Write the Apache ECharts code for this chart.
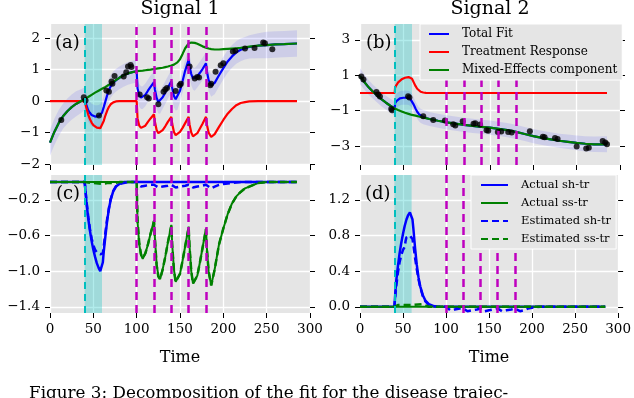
<!DOCTYPE html>
<html>
<head>
<meta charset="utf-8">
<script src="https://cdn.jsdelivr.net/npm/echarts@6.0.0/dist/echarts.min.js"></script>
<style>
html, body { margin: 0; padding: 0; background: #fff; }
#main { width: 634px; height: 398px; }
</style>
</head>
<body>
<div id="main"></div>
<script>
// treatment markers
var treatTimes = [100, 120, 140, 160, 180]
    , shockStart = 40
    , shockEnd = 60;

// panel (a): signal 1 fit
var tA = [0,5,10,15,20,25,30,35,40,42,44,46,48,50,52,54,56,58,60,62,64,66,68,70,73,76,80,85,90,95,100,101,103,105,107,110,113,116,120,121,123,125,127,130,133,136,140,141,143,145,147,150,153,156,160,161,163,165,167,170,173,176,180,181,183,186,190,195,200,205,210,215,220,225,230,240,250,260,270,285];
var redA = [0,0,0,0,0, 0,0,0,0,-0.22, -0.42,-0.57,-0.68,-0.76,-0.81, -0.84,-0.86,-0.86,-0.8,-0.63, -0.45,-0.3,-0.18,-0.1,-0.04, -0.01,0,0,0,0, 0,-0.55,-0.78,-0.85,-0.86, -0.78,-0.66,-0.55,-0.42,-0.65, -0.92,-1.02,-1.04,-0.92,-0.8, -0.66,-0.5,-0.72,-0.98,-1.08, -1.1,-0.98,-0.85,-0.7,-0.5, -0.74,-1.0,-1.12,-1.14,-1.02, -0.87,-0.72,-0.5,-0.74,-1.0, -1.14,-1.05,-0.82,-0.6,-0.4, -0.25,-0.13,-0.06,-0.03,-0.01, 0,0,0,0,0];
var greenA = [-1.32,-0.98,-0.7,-0.48,-0.32, -0.19,-0.09,-0.01,0.07,0.1, 0.13,0.17,0.2,0.24,0.27, 0.3,0.33,0.36,0.39,0.42, 0.45,0.49,0.52,0.56,0.61, 0.67,0.74,0.82,0.88,0.92, 0.95,0.95,0.96,0.96,0.97, 0.98,0.99,1.0,1.02,1.02, 1.03,1.04,1.05,1.06,1.08, 1.1,1.13,1.14,1.16,1.19, 1.23,1.33,1.5,1.68,1.83, 1.85,1.86,1.86,1.85,1.82, 1.78,1.74,1.7,1.69,1.67, 1.65,1.64,1.64,1.65,1.66, 1.67,1.68,1.69,1.71,1.73, 1.76,1.78,1.8,1.81,1.83];
var blueA = [-1.32,-0.98,-0.7,-0.48,-0.32, -0.19,-0.09,-0.01,0.07,-0.12, -0.29,-0.37,-0.44,-0.47,-0.49, -0.49,-0.48,-0.45,-0.37,-0.19, 0.0,0.19,0.35,0.47,0.58, 0.66,0.74,0.82,0.88,0.92, 0.95,0.4,0.18,0.11,0.11, 0.2,0.33,0.45,0.6,0.37, 0.11,-0.03,-0.04,0.12,0.27, 0.43,0.63,0.42,0.16,0.06, 0.08,0.33,0.64,0.97,1.32, 1.11,0.86,0.72,0.69,0.79, 0.9,1.02,1.2,0.95,0.67, 0.5,0.58,0.82,1.05,1.26, 1.42,1.55,1.63,1.68,1.72, 1.76,1.78,1.8,1.81,1.83];
var bandLoA = [-1.74,-1.40,-1.12,-0.88,-0.72, -0.59,-0.49,-0.39,-0.29,-0.48, -0.65,-0.73,-0.80,-0.83,-0.85, -0.85,-0.84,-0.81,-0.73,-0.55, -0.36,-0.17,-0.01,0.11,0.22, 0.30,0.38,0.46,0.52,0.56, 0.59,0.04,-0.18,-0.25,-0.25, -0.16,-0.03,0.09,0.24,0.01, -0.25,-0.39,-0.40,-0.24,-0.09, 0.07,0.27,0.06,-0.20,-0.30, -0.28,-0.03,0.28,0.61,0.96, 0.75,0.50,0.36,0.33,0.43, 0.54,0.66,0.84,0.59,0.31, 0.14,0.22,0.46,0.69,0.90, 1.06,1.19,1.27,1.32,1.35, 1.36,1.36,1.38,1.39,1.41];
var bandHiA = [-0.90,-0.56,-0.28,-0.08,0.08, 0.21,0.31,0.37,0.43,0.24, 0.07,-0.01,-0.08,-0.11,-0.13, -0.13,-0.12,-0.09,-0.01,0.17, 0.36,0.55,0.71,0.83,0.94, 1.02,1.10,1.18,1.24,1.28, 1.31,0.76,0.54,0.47,0.47, 0.56,0.69,0.81,0.96,0.73, 0.47,0.33,0.32,0.48,0.63, 0.79,0.99,0.78,0.52,0.42, 0.44,0.69,1.00,1.33,1.68, 1.47,1.22,1.08,1.05,1.15, 1.26,1.38,1.56,1.31,1.03, 0.86,0.94,1.18,1.41,1.62, 1.78,1.91,1.99,2.04,2.09, 2.16,2.20,2.22,2.23,2.25];
var obsA = [[13,-0.6],[39,0.12],[41,0.02],[56.5,-0.46],[65,0.34],[68,0.3],[71,0.62],[72,0.55],[74.5,0.8],[85,0.78],[88,0.92],[90,1.1],[93,1.15],[94,1.08],[103.5,0.21],[112,0.12],[114,0.08],[125,-0.1],[131,0.3],[133,0.37],[135,0.42],[145,0.32],[149.5,0.5],[151,0.55],[161,1.1],[167,0.72],[170,0.77],[172,0.75],[185,0.5],[186,0.55],[191,0.93],[197,1.14],[200,1.2],[211,1.58],[214,1.6],[225,1.67],[236,1.69],[246,1.86],[248,1.84],[256.5,1.65]];

// panel (b): signal 2 fit
var tB = [0,5,10,15,20,25,30,35,40,40.5,42,44,46,48,50,52,54,56,58,60,62,64,66,68,70,73,76,80,90,100,110,120,130,140,150,160,170,180,190,200,210,220,230,240,250,260,270,285];
var redB = [0,0,0,0,0,0,0,0,0,0.3, 0.45,0.6,0.7,0.77,0.82, 0.86,0.88,0.9,0.88,0.8, 0.6,0.4,0.24,0.13,0.07, 0.03,0.01,0, 0,0,0,0,0,0,0,0,0,0,0,0,0,0,0,0,0,0,0,0];
var greenB = [0.95,0.62,0.32,0.07,-0.15,-0.36,-0.55,-0.72,-0.87,-0.88, -0.91,-0.96,-1.0,-1.04,-1.09, -1.12,-1.15,-1.18,-1.21,-1.24, -1.26,-1.28,-1.3,-1.33,-1.36, -1.39,-1.42,-1.47, -1.57,-1.66,-1.73,-1.8,-1.86,-1.91,-1.96,-2.03,-2.1,-2.2,-2.32,-2.44,-2.54,-2.62,-2.7,-2.76,-2.82,-2.87,-2.9,-2.9];
var blueB = [0.95,0.62,0.32,0.07,-0.15,-0.36,-0.55,-0.72,-0.87,-0.58, -0.46,-0.36,-0.3,-0.27,-0.27, -0.26,-0.27,-0.28,-0.33,-0.44, -0.66,-0.88,-1.06,-1.2,-1.29, -1.36,-1.41,-1.47, -1.57,-1.66,-1.73,-1.8,-1.86,-1.91,-1.96,-2.03,-2.1,-2.2,-2.32,-2.44,-2.54,-2.62,-2.7,-2.76,-2.82,-2.87,-2.9,-2.9];
var bandLoB = [0.50,0.18,-0.10,-0.33,-0.55,-0.76,-0.95,-1.12,-1.27,-0.98, -0.86,-0.76,-0.70,-0.67,-0.67, -0.66,-0.67,-0.68,-0.73,-0.84, -1.06,-1.28,-1.46,-1.60,-1.69, -1.76,-1.81,-1.87, -1.97,-2.06,-2.13,-2.20,-2.26,-2.31,-2.36,-2.43,-2.50,-2.60,-2.72,-2.84,-2.94,-3.02,-3.10,-3.17,-3.24,-3.30,-3.34,-3.35];
var bandHiB = [1.40,1.06,0.74,0.47,0.25,0.04,-0.15,-0.32,-0.47,-0.18, -0.06,0.04,0.10,0.13,0.13, 0.14,0.13,0.12,0.07,-0.04, -0.26,-0.48,-0.66,-0.80,-0.89, -0.96,-1.01,-1.07, -1.17,-1.26,-1.33,-1.40,-1.46,-1.51,-1.56,-1.63,-1.70,-1.80,-1.92,-2.04,-2.14,-2.22,-2.30,-2.35,-2.40,-2.44,-2.46,-2.45];
var obsB = [[1.5,0.93],[4,0.76],[19,0.05],[21,-0.08],[23,-0.2],[36,-0.9],[37,-0.97],[55.5,-0.18],[57,-0.25],[73,-1.31],[84.5,-1.52],[98,-1.56],[107.5,-1.76],[110,-1.84],[118.5,-1.6],[131,-1.74],[133,-1.71],[138.5,-1.78],[146,-2.1],[148,-2.14],[159,-2.2],[163,-2.18],[171,-2.2],[175,-2.24],[196,-2.16],[211,-2.48],[213,-2.5],[225,-2.54],[228,-2.6],[250,-3.02],[261,-3.14],[264,-3.1],[280,-2.72],[283,-2.8],[285,-2.9]];

// panel (c): signal 1 decomposition
var actShC = [[0,0],[40,0],[41,-0.1],[42,-0.22],[44,-0.4],[46,-0.54],[48,-0.66],[50,-0.76],[52,-0.84],[54,-0.91],[56,-0.96],[58,-1.0],[60,-1.02],[61,-0.9],[62,-0.78],[64,-0.6],[66,-0.43],[68,-0.3],[70,-0.2],[73,-0.1],[76,-0.05],[80,-0.02],[85,0],[285,0]];
var estShC = [[0,0],[40,0],[41,-0.1],[42,-0.2],[44,-0.38],[46,-0.52],[48,-0.63],[50,-0.71],[52,-0.76],[54,-0.79],[56,-0.8],[58,-0.81],[60,-0.83],[61,-0.8],[62,-0.72],[64,-0.56],[66,-0.41],[68,-0.29],[70,-0.19],[73,-0.1],[76,-0.05],[80,-0.02],[85,-0.01],[90,0],[100,0],[102,-0.03],[105,-0.05],[110,-0.04],[116,-0.03],[120,-0.03],[122,-0.04],[125,-0.06],[130,-0.05],[136,-0.04],[140,-0.03],[142,-0.04],[145,-0.06],[150,-0.05],[156,-0.04],[160,-0.03],[162,-0.04],[165,-0.06],[170,-0.05],[176,-0.04],[180,-0.03],[182,-0.05],[186,-0.07],[190,-0.05],[195,-0.03],[200,-0.02],[210,-0.01],[220,0],[285,0]];
var actSsC = [[0,0],[100,0],[101,-0.45],[103,-0.7],[105,-0.82],[107,-0.86],[110,-0.8],[113,-0.7],[116,-0.58],[120,-0.43],[121,-0.62],[123,-0.92],[125,-1.05],[127,-1.09],[130,-0.98],[133,-0.84],[136,-0.68],[140,-0.48],[141,-0.7],[143,-0.98],[145,-1.12],[147,-1.14],[150,-1.03],[153,-0.88],[156,-0.72],[160,-0.5],[161,-0.72],[163,-1.0],[165,-1.14],[167,-1.16],[170,-1.05],[173,-0.9],[176,-0.74],[180,-0.52],[181,-0.74],[183,-1.0],[186,-1.16],[190,-0.98],[195,-0.7],[200,-0.52],[205,-0.36],[210,-0.24],[215,-0.16],[220,-0.11],[225,-0.07],[230,-0.05],[240,-0.01],[250,0],[285,0]];
var estSsC = [[0,0],[40,0],[42,-0.02],[60,-0.02],[62,0],[66,-0.01],[75,-0.01],[80,0],[100,0],[101,-0.43],[103,-0.69],[105,-0.81],[107,-0.85],[110,-0.8],[113,-0.7],[116,-0.58],[120,-0.44],[121,-0.63],[123,-0.93],[125,-1.06],[127,-1.09],[130,-0.98],[133,-0.84],[136,-0.68],[140,-0.49],[141,-0.71],[143,-0.99],[145,-1.12],[147,-1.14],[150,-1.03],[153,-0.88],[156,-0.72],[160,-0.51],[161,-0.73],[163,-1.0],[165,-1.14],[167,-1.16],[170,-1.05],[173,-0.9],[176,-0.74],[180,-0.53],[181,-0.75],[183,-1.0],[186,-1.16],[190,-0.98],[195,-0.7],[200,-0.52],[205,-0.36],[210,-0.24],[215,-0.16],[220,-0.11],[225,-0.07],[230,-0.05],[240,-0.01],[250,0],[285,0]];

// panel (d): signal 2 decomposition
var actShD = [[0,0],[40,0],[41,0.15],[42,0.28],[44,0.45],[46,0.6],[48,0.72],[50,0.82],[52,0.91],[54,0.98],[56,1.03],[58,1.06],[60,1.05],[61,0.98],[62,0.88],[64,0.66],[66,0.47],[68,0.33],[70,0.23],[73,0.13],[76,0.07],[80,0.03],[85,0.01],[90,0],[285,0]];
var estShD = [[0,0],[40,0],[41,0.12],[42,0.22],[44,0.38],[46,0.5],[48,0.58],[50,0.64],[52,0.67],[53,0.74],[54,0.78],[56,0.8],[58,0.8],[60,0.8],[61,0.76],[62,0.7],[64,0.55],[66,0.42],[68,0.31],[70,0.22],[73,0.12],[76,0.06],[80,0.02],[85,0.01],[90,0],[100,0],[102,-0.02],[105,-0.04],[110,-0.03],[116,-0.02],[120,-0.02],[122,-0.03],[125,-0.05],[130,-0.04],[136,-0.03],[140,-0.02],[142,-0.03],[145,-0.05],[150,-0.04],[156,-0.03],[160,-0.02],[162,-0.03],[165,-0.05],[170,-0.04],[176,-0.03],[180,-0.02],[182,-0.03],[186,-0.05],[190,-0.04],[195,-0.02],[200,-0.01],[210,0],[285,0]];
var actSsD = [[0,0],[285,0]];
var estSsD = [[0,0],[40,0],[42,0.01],[44,0.02],[58,0.02],[60,0.01],[62,0.02],[64,0.03],[72,0.03],[74,0.01],[80,0],[285,0]];

// axis settings
var yMin = [-2.03, -4.07, -1.47, -0.07]
    , yMax = [2.45, 3.9, 0.08, 1.48]
    , yTicks = [[-2, -1, 0, 1, 2], [-3, -1, 1, 3], [-1.4, -1.0, -0.6, -0.2], [0, 0.4, 0.8, 1.2]]
    , yDigits = [0, 0, 1, 1];

var SERIF = 'DejaVu Serif';
var BG = '#e5e5e5';

var grids = [
    { left: 50, top: 24, width: 260, height: 141 }
    , { left: 360, top: 24, width: 260, height: 141 }
    , { left: 50, top: 175, width: 260, height: 138 }
    , { left: 360, top: 175, width: 260, height: 138 }
];

function fmt(v, d) {
    var s = Math.abs(v).toFixed(d);
    return (v < -1e-9 ? '\u2212' : '') + s;
}

function zip(t, v) {
    return t.map(function (x, i) { return [x, v[i]]; });
}

function line(name, gi, data, color, width, dashed, z) {
    return {
        name: name, type: 'line', xAxisIndex: gi, yAxisIndex: gi, data: data
        , symbol: 'none', showSymbol: false, silent: true, z: z || 3
        , lineStyle: { color: color, width: width, type: dashed ? [7, 4] : 'solid' }
        , itemStyle: { color: color }
    };
}

function band(gi, t, lo, hi) {
    return {
        type: 'custom', xAxisIndex: gi, yAxisIndex: gi, data: [[0, 0]], silent: true, z: 2
        , renderItem: function (params, api) {
            var pts = [], i;
            for (i = 0; i < t.length; i++) pts.push(api.coord([t[i], hi[i]]));
            for (i = t.length - 1; i >= 0; i--) pts.push(api.coord([t[i], lo[i]]));
            return { type: 'polygon', shape: { points: pts }, style: { fill: 'rgba(0,0,255,0.1)' } };
        }
    };
}

function dots(gi, data) {
    return {
        type: 'scatter', xAxisIndex: gi, yAxisIndex: gi, data: data, silent: true, z: 4
        , symbol: 'circle', symbolSize: 6, itemStyle: { color: '#000' }
    };
}

// cyan window + treatment lines
function markers(gi) {
    var lines = [{ xAxis: shockStart, lineStyle: { color: '#00bfbf', width: 2, type: [7, 5] } }];
    treatTimes.forEach(function (t) {
        lines.push({ xAxis: t, lineStyle: { color: '#bf00bf', width: 2.5, type: [8, 5] } });
    });
    return [{
        type: 'line', xAxisIndex: gi, yAxisIndex: gi, data: [[0, yMin[gi]]], symbol: 'none', silent: true, z: 1
        , lineStyle: { opacity: 0 }
        , markArea: { silent: true, itemStyle: { color: 'rgba(0,191,191,0.3)' }, data: [[{ xAxis: shockStart }, { xAxis: shockEnd }]] }
    }, {
        type: 'line', xAxisIndex: gi, yAxisIndex: gi, data: [[0, yMin[gi]]], symbol: 'none', silent: true, z: 5
        , lineStyle: { opacity: 0 }
        , markLine: { silent: true, symbol: ['none', 'none'], label: { show: false }, animation: false, data: lines }
    }];
}

var xAxes = grids.map(function (g, i) {
    return {
        gridIndex: i, type: 'value', min: 0, max: 300, interval: 50
        , axisLine: { show: false, onZero: false }
        , axisTick: { show: true, length: 5, lineStyle: { color: '#000' } }
        , axisLabel: { show: i >= 2, color: '#000', fontFamily: SERIF, fontSize: 13.5, margin: 9 }
        , splitLine: { show: true, lineStyle: { color: '#fff', width: 1.3 } }
        , name: i >= 2 ? 'Time' : '', nameLocation: 'middle', nameGap: 37
        , nameTextStyle: { color: '#000', fontFamily: SERIF, fontSize: 16 }
    };
});

var yAxes = [];
grids.forEach(function (g, i) {
    yAxes.push({
        gridIndex: i, type: 'value', min: yMin[i], max: yMax[i], position: 'left'
        , axisLine: { show: false, onZero: false }
        , axisTick: { show: true, length: 5, customValues: yTicks[i], lineStyle: { color: '#000' } }
        , axisLabel: {
            show: true, customValues: yTicks[i], color: '#000', fontFamily: SERIF, fontSize: 13.5, margin: 10
            , formatter: function (v) { return fmt(v, yDigits[i]); }
        }
        , splitLine: { show: true, lineStyle: { color: '#fff', width: 1.3 } }
    });
});
grids.forEach(function (g, i) {
    yAxes.push({
        gridIndex: i, type: 'value', min: yMin[i], max: yMax[i], position: 'right'
        , axisLine: { show: false, onZero: false }
        , axisTick: { show: true, length: 5, customValues: yTicks[i], lineStyle: { color: '#000' } }
        , axisLabel: { show: false }
        , splitLine: { show: false }
    });
});

var series = [];
// (a)
series = series.concat(markers(0));
series.push(band(0, tA, bandLoA, bandHiA));
series.push(line('Total Fit', 0, zip(tA, blueA), '#0000ff', 2.2));
series.push(line('Treatment Response', 0, zip(tA, redA), '#ff0000', 2.2));
series.push(line('Mixed-Effects component', 0, zip(tA, greenA), '#008000', 2.2));
series.push(dots(0, obsA));
// (b)
series = series.concat(markers(1));
series.push(band(1, tB, bandLoB, bandHiB));
series.push(line('Total Fit', 1, zip(tB, blueB), '#0000ff', 2.2));
series.push(line('Treatment Response', 1, zip(tB, redB), '#ff0000', 2.2));
series.push(line('Mixed-Effects component', 1, zip(tB, greenB), '#008000', 2.2));
series.push(dots(1, obsB));
// (c)
series = series.concat(markers(2));
series.push(line('Actual sh-tr', 2, actShC, '#0000ff', 2.5));
series.push(line('Actual ss-tr', 2, actSsC, '#008000', 2));
series.push(line('Estimated sh-tr', 2, estShC, '#0000ff', 2.5, true));
series.push(line('Estimated ss-tr', 2, estSsC, '#008000', 2.5, true));
// (d)
series = series.concat(markers(3));
series.push(line('Actual sh-tr', 3, actShD, '#0000ff', 2.5));
series.push(line('Actual ss-tr', 3, actSsD, '#008000', 2));
series.push(line('Estimated sh-tr', 3, estShD, '#0000ff', 2.5, true));
series.push(line('Estimated ss-tr', 3, estSsD, '#008000', 2.5, true));

function txt(x, y, s, size, align) {
    return {
        type: 'text', x: x, y: y, silent: true, z: 20
        , style: { text: s, fill: '#000', fontFamily: SERIF, fontSize: size, align: align || 'left', verticalAlign: 'middle' }
    };
}

var legendBase = {
    orient: 'vertical', selectedMode: false, itemHeight: 13, itemGap: 6
    , itemStyle: { opacity: 0, borderWidth: 0 }
    , backgroundColor: BG, borderColor: '#ffffff', borderWidth: 1, borderRadius: 0, z: 10
};

var dom = document.getElementById('main');
var myChart = echarts.init(dom, null, { renderer: 'canvas' });
var option = {
    animation: false
    , backgroundColor: '#ffffff'
    , grid: grids.map(function (g) {
        return { left: g.left, top: g.top, width: g.width, height: g.height, show: true, backgroundColor: BG, borderWidth: 0 };
    })
    , xAxis: xAxes
    , yAxis: yAxes
    , legend: [
        Object.assign({}, legendBase, {
            data: ['Total Fit', 'Treatment Response', 'Mixed-Effects component']
            , left: 420, top: 24, itemWidth: 20, padding: [4, 5, 4, 8]
            , textStyle: { color: '#000', fontFamily: SERIF, fontSize: 12, padding: [0, 0, 0, 8] }
        })
        , Object.assign({}, legendBase, {
            data: ['Actual sh-tr', 'Actual ss-tr', 'Estimated sh-tr', 'Estimated ss-tr']
            , left: 471, top: 175, itemWidth: 27, padding: [4, 5, 4, 9]
            , textStyle: { color: '#000', fontFamily: SERIF, fontSize: 11.5, padding: [0, 0, 0, 8] }
        })
    ]
    , series: series
    , graphic: [
        txt(180, 9.5, 'Signal 1', 19, 'center')
        , txt(490, 9.5, 'Signal 2', 19, 'center')
        , txt(55, 43, '(a)', 18)
        , txt(366, 43, '(b)', 18)
        , txt(56, 194, '(c)', 18)
        , txt(365, 194, '(d)', 18)
        , txt(29, 394, 'Figure 3: Decomposition of the fit for the disease trajec-', 16.8)
    ]
};
myChart.setOption(option);
</script>
</body>
</html>
